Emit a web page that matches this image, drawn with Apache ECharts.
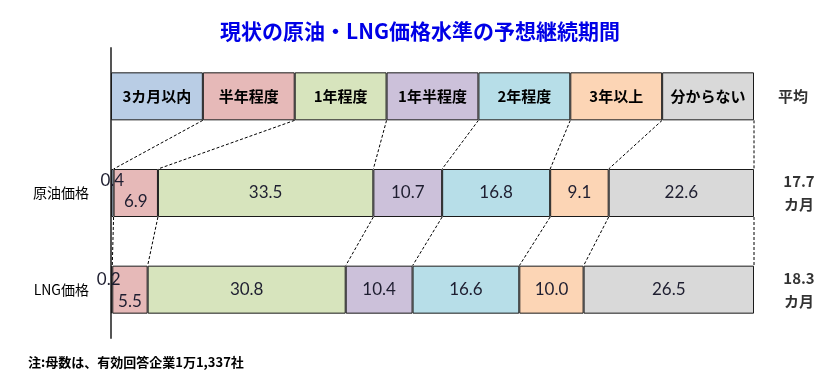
<!DOCTYPE html>
<html lang="ja">
<head>
<meta charset="UTF-8">
<script src="https://cdn.jsdelivr.net/npm/echarts@6.0.0/dist/echarts.min.js"></script>
<style>
    html, body { margin: 0; padding: 0; background: #fff; }
    #chart { width: 838px; height: 378px; }
</style>
</head>
<body>
<div id="chart"></div>
<script>
    // 回答区分
    var seriesNames = ['3カ月以内', '半年程度', '1年程度', '1年半程度', '2年程度', '3年以上', '分からない'];
    // 行
    var categories = ['原油価格', 'LNG価格'];
    // 構成比(%)
    var crudeOilValues = [0.4, 6.9, 33.5, 10.7, 16.8, 9.1, 22.6];
    var lngValues = [0.2, 5.5, 30.8, 10.4, 16.6, 10.0, 26.5];
    // 平均
    var averageTitle = '平均';
    var averageMonths = ['17.7', '18.3'];

    var colors = ['#b9cde5', '#e6b9b8', '#d7e4bd', '#ccc1da', '#b7dee8', '#fcd5b5', '#d9d9d9'];
    var BAR_W = 48;
    var CJK = 'Noto Sans CJK JP';

    var chart = echarts.init(document.getElementById('chart'));

    // 見出し行は各区分を等幅に
    var headerShare = 100 / seriesNames.length;
    var rows = [seriesNames.map(function () { return headerShare; }), crudeOilValues, lngValues];

    // 小さい区分のラベル位置
    var labelOffsets = { 0: [[0, -12], [-3, -10]], 1: [[0, 9], [0, 12]] };

    var barSeries = seriesNames.map(function (name, i) {
        var data = rows.map(function (row, r) {
            var item = { value: row[i] };
            if (r === 0) {
                item.label = { fontFamily: CJK, fontWeight: 'bold', fontSize: 15, color: '#000' };
            } else if (labelOffsets[i]) {
                item.label = { offset: labelOffsets[i][r - 1] };
            }
            return item;
        });
        return {
            name: name,
            type: 'bar',
            stack: 'total',
            barWidth: BAR_W,
            data: data,
            itemStyle: { color: colors[i], borderColor: '#1a1a1a', borderWidth: 1 },
            label: {
                show: true,
                position: 'inside',
                fontFamily: 'Lato',
                fontSize: 17,
                color: '#1e1e30',
                formatter: function (p) {
                    return p.dataIndex === 0 ? p.seriesName : p.value.toFixed(1);
                }
            },
            emphasis: { disabled: true }
        };
    });

    // 区切り線(点線)
    function cumulative(arr) {
        var s = 0;
        return arr.map(function (v) { s += v; return s; });
    }
    var cums = rows.map(cumulative);
    var connectorData = [];
    for (var r = 0; r < rows.length - 1; r++) {
        for (var j = 0; j < seriesNames.length; j++) {
            connectorData.push([cums[r][j], r, cums[r + 1][j], r + 1]);
        }
    }

    var connectorSeries = {
        type: 'custom',
        coordinateSystem: 'cartesian2d',
        silent: true,
        encode: { x: [0, 2], y: [1, 3] },
        data: connectorData,
        renderItem: function (params, api) {
            var a = api.coord([api.value(0), api.value(1)]);
            var b = api.coord([api.value(2), api.value(3)]);
            return {
                type: 'line',
                shape: { x1: a[0], y1: a[1] + BAR_W / 2, x2: b[0], y2: b[1] - BAR_W / 2 },
                style: { stroke: '#000', lineWidth: 1, lineDash: [3, 2] }
            };
        }
    };

    // 平均列
    var avgData = [{ name: averageTitle, value: [100, 0], label: { offset: [39, 0] } }];
    averageMonths.forEach(function (m, k) {
        avgData.push({ name: m + '\nカ月', value: [100, k + 1] });
    });
    var avgSeries = {
        type: 'scatter',
        symbolSize: 1,
        silent: true,
        itemStyle: { color: 'rgba(0,0,0,0)' },
        data: avgData,
        label: {
            show: true,
            position: 'inside',
            offset: [45, 0],
            formatter: '{b}',
            fontFamily: CJK,
            fontWeight: 'bold',
            fontSize: 15,
            lineHeight: 23,
            color: '#000',
            align: 'center'
        }
    };

    chart.setOption({
        animation: false,
        title: [{
            text: '現状の原油・LNG価格水準の予想継続期間',
            left: 415,
            top: 16,
            textAlign: 'center',
            textStyle: { color: '#0000e6', fontSize: 21, fontWeight: 'bold', fontFamily: CJK }
        }, {
            text: '注:母数は、有効回答企業1万1,337社',
            left: 23,
            top: 351,
            textStyle: { color: '#000', fontSize: 13, fontWeight: 'bold', fontFamily: CJK }
        }],
        grid: { left: 111, right: 84, top: 48, bottom: 40 },
        xAxis: { type: 'value', min: 0, max: 100, show: false },
        yAxis: {
            type: 'category',
            inverse: true,
            data: [''].concat(categories),
            axisTick: { show: false },
            axisLine: { lineStyle: { color: '#555', width: 2 } },
            axisLabel: { fontFamily: CJK, fontSize: 14, color: '#000', margin: 22 }
        },
        series: barSeries.concat([connectorSeries, avgSeries])
    });
</script>
</body>
</html>
